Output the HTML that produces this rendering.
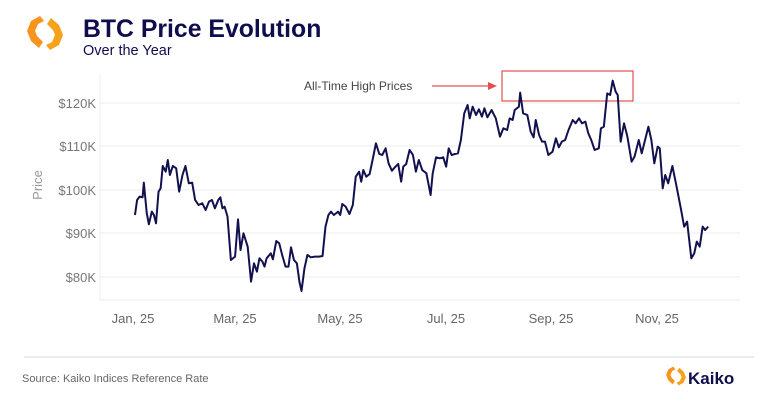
<!DOCTYPE html>
<html><head><meta charset="utf-8"><style>
body{margin:0;background:#fff;width:768px;height:407px;overflow:hidden;font-family:"Liberation Sans",sans-serif}
</style></head><body>
<svg width="768" height="407" viewBox="0 0 768 407" xmlns="http://www.w3.org/2000/svg" font-family="Liberation Sans, sans-serif">
<rect width="768" height="407" fill="#fff"/>
<g transform="translate(45,33)">
<path d="M-5,-17 L-14,-12 L-18,-2 L-14,8 L-6,15 L-2,9 L-8,3 L-10,-2 L-7,-9 L-1,-12 Z" fill="#f7941d"/>
<path d="M5,17 L14,12 L18,2 L14,-8 L6,-15 L2,-9 L8,-3 L10,2 L7,9 L1,12 Z" fill="#f7a21d"/>
</g>
<text x="83" y="37" font-size="24.8" font-weight="bold" fill="#0f0d4d">BTC Price Evolution</text>
<text x="83" y="55" font-size="14.5" fill="#0f0d4d">Over the Year</text>
<g stroke="#ececf0" stroke-width="1">
<line x1="100" y1="103" x2="740" y2="103"/>
<line x1="100" y1="146" x2="740" y2="146"/>
<line x1="100" y1="190" x2="740" y2="190"/>
<line x1="100" y1="233" x2="740" y2="233"/>
<line x1="100" y1="277" x2="740" y2="277"/>
<line x1="100" y1="300" x2="740" y2="300"/>
<line x1="100" y1="75" x2="100" y2="300"/>
</g>
<g font-size="13" fill="#777" text-anchor="end">
<text x="96" y="108">$120K</text>
<text x="96" y="151">$110K</text>
<text x="96" y="195">$100K</text>
<text x="96" y="238">$90K</text>
<text x="96" y="282">$80K</text>
</g>
<text transform="translate(42,185) rotate(-90)" font-size="13" fill="#999" text-anchor="middle">Price</text>
<g font-size="13" fill="#666" text-anchor="middle">
<text x="133" y="323">Jan, 25</text>
<text x="235" y="323">Mar, 25</text>
<text x="340" y="323">May, 25</text>
<text x="446" y="323">Jul, 25</text>
<text x="551" y="323">Sep, 25</text>
<text x="657" y="323">Nov, 25</text>
</g>
<rect x="502" y="71" width="131" height="30" fill="none" stroke="#e05050" stroke-width="1.2"/>
<text x="304" y="90" font-size="12" fill="#444">All-Time High Prices</text>
<line x1="432" y1="86" x2="490" y2="86" stroke="#e05050" stroke-width="1.2"/>
<polygon points="497,86 488,82 488,90" fill="#e05050"/>
<g transform="translate(90,60) scale(0.4205,0.3333)">
<polyline fill="none" stroke="#12114f" stroke-width="2" vector-effect="non-scaling-stroke" stroke-linejoin="round" points="107,465 112,420 118,410 125,412 128,368 135,460 140,493 147,455 152,465 157,490 163,395 168,385 173,318 180,335 185,300 190,345 197,318 205,325 212,395 220,345 227,318 235,370 243,368 250,420 258,435 267,430 275,450 283,425 290,420 297,445 305,420 310,412 315,445 320,440 327,470 335,600 345,590 352,478 358,570 365,520 375,560 383,665 390,610 397,635 403,595 410,605 415,620 420,595 430,580 435,598 443,543 450,550 457,585 465,620 472,620 478,562 485,600 492,610 498,665 503,693 510,625 517,585 525,592 535,590 545,590 553,588 560,500 567,465 573,455 580,465 590,455 595,465 600,432 608,440 617,462 625,435 632,350 640,335 645,365 650,330 657,350 665,342 672,300 680,250 688,282 695,285 703,265 710,310 718,332 725,322 733,312 740,365 745,320 752,312 760,270 768,285 775,335 782,300 790,330 800,340 810,405 815,340 823,292 832,295 840,292 847,320 853,265 860,285 868,282 875,280 882,240 890,160 898,135 903,175 910,140 918,165 925,148 932,170 938,145 945,172 955,150 965,175 975,230 983,205 992,210 998,175 1005,180 1010,150 1020,140 1023,98 1030,160 1040,165 1048,215 1055,232 1060,180 1068,225 1075,245 1082,245 1090,285 1100,275 1108,235 1115,262 1122,245 1130,240 1138,210 1148,180 1155,190 1163,175 1170,190 1178,185 1185,220 1192,240 1200,270 1210,265 1215,205 1222,200 1230,100 1237,105 1243,62 1250,95 1255,105 1262,245 1270,190 1278,230 1288,305 1295,290 1305,240 1312,280 1320,240 1328,200 1335,240 1342,310 1350,260 1355,265 1362,385 1368,345 1375,370 1385,318 1395,380 1405,445 1413,500 1420,485 1430,595 1437,580 1443,545 1450,560 1457,500 1463,510 1470,500"/>
</g>
<line x1="24" y1="357" x2="754" y2="357" stroke="#d8d8d8" stroke-width="1"/>
<text x="22" y="382" font-size="11" fill="#666">Source: Kaiko Indices Reference Rate</text>
<g transform="translate(676,376) scale(0.55)">
<path d="M-5,-17 L-14,-12 L-18,-2 L-14,8 L-6,15 L-2,9 L-8,3 L-10,-2 L-7,-9 L-1,-12 Z" fill="#f7941d"/>
<path d="M5,17 L14,12 L18,2 L14,-8 L6,-15 L2,-9 L8,-3 L10,2 L7,9 L1,12 Z" fill="#f7a21d"/>
</g>
<text x="688" y="384" font-size="17" font-weight="bold" fill="#0f0d4d">Kaiko</text>
</svg>
</body></html>
